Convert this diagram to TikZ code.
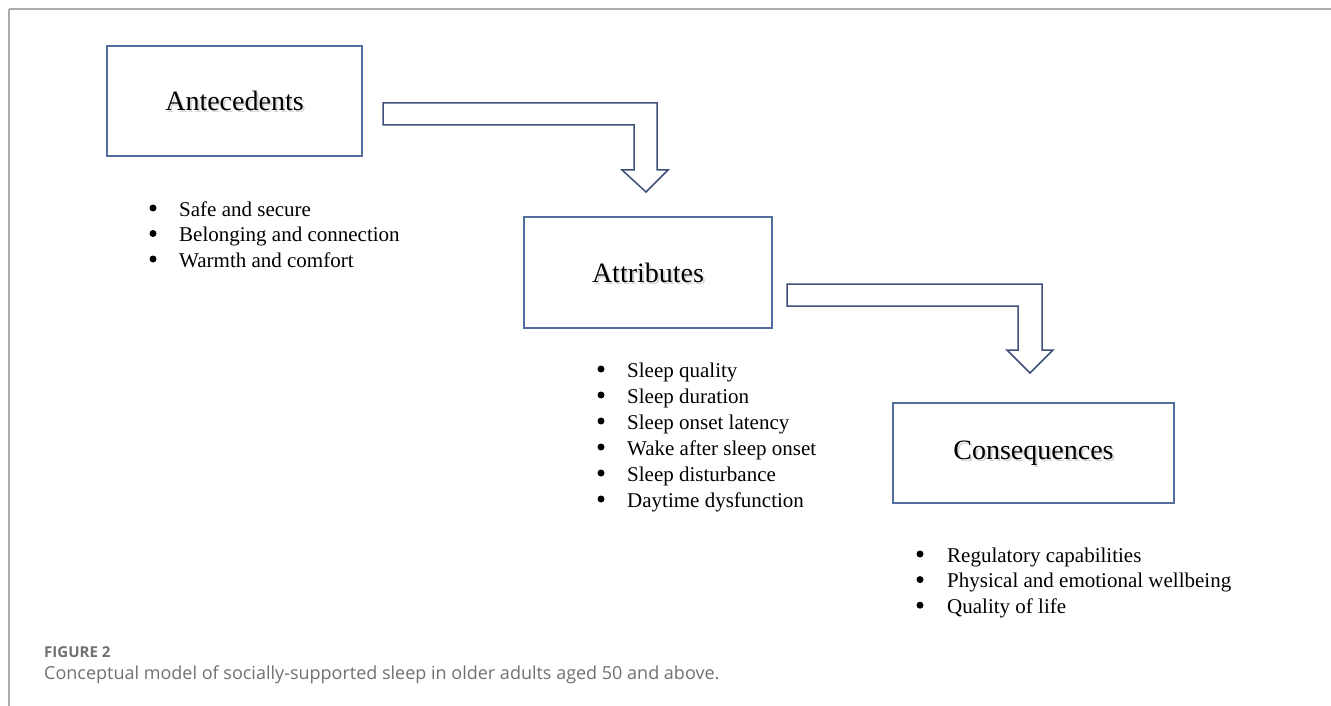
\documentclass[tikz,border=0pt]{standalone}
\usepackage{fontspec}
\setmainfont{Liberation Serif}
\newfontfamily\capfont{Open Sans}
\usetikzlibrary{positioning}
\definecolor{boxblue}{RGB}{84,110,160}
\definecolor{arrowblue}{RGB}{62,80,122}
\definecolor{rulegray}{RGB}{172,172,172}
\definecolor{capgray}{RGB}{112,112,112}
\tikzset{
  stage/.style={draw=boxblue, line width=1.5pt, inner sep=0pt, font=\fontsize{28}{32}\selectfont},
  glow/.style={inner sep=0pt, font=\fontsize{28}{32}\selectfont, text=black, opacity=0.16},
  item/.style={anchor=base west, inner sep=0pt, font=\fontsize{21}{26}\selectfont},
  dot/.style={circle, fill=black, inner sep=0pt, minimum size=7pt},
  blockarrow/.style={draw=arrowblue, line width=1.5pt, line join=miter},
}

\begin{document}
\begin{tikzpicture}[x=1pt,y=-1pt]
        \useasboundingbox (0,0) rectangle (1331,706);

        % page rules
        \draw[rulegray, line width=1.5pt] (9,9) -- (1331,9);
        \draw[rulegray, line width=1.5pt] (9,9) -- (9,706);

        % soft shadows behind the titles
        \node[glow] at (236.5,103) {Antecedents};
        \node[glow] at (650,274.5) {Attributes};
        \node[glow] at (1035.5,455) {Consequences};

        \node[stage, minimum width=255pt, minimum height=110pt] (ante) at (234.5,101) {Antecedents};
        \node[stage, minimum width=248pt, minimum height=111pt] (attr) at (648,272.5) {Attributes};
        \node[stage, minimum width=281pt, minimum height=100pt] (cons) at (1033.5,453) {Consequences};

        % bent block arrows
        \draw[blockarrow] (383,103) -- (657,103) -- (657,170) -- (668,170) -- (646,192)
              -- (622,170) -- (634,170) -- (634,125) -- (383,125) -- cycle;
        \draw[blockarrow] (787,284) -- (1042,284) -- (1042,350) -- (1053,350) -- (1030,373)
              -- (1007,350) -- (1018,350) -- (1018,306) -- (787,306) -- cycle;

        % bullet lists
        \foreach \txt [count=\i from 0] in {Safe and secure, Belonging and connection, Warmth and comfort} {
          \node[dot] (ante-dot-\i) at (153,{208+25.5*\i}) {};
          \node[item] (ante-item-\i) at (179,{216+25.5*\i}) {\txt};
        }
        \foreach \txt [count=\i from 0] in {Sleep quality, Sleep duration, Sleep onset latency,
            Wake after sleep onset, Sleep disturbance, Daytime dysfunction} {
          \node[dot] (attr-dot-\i) at (601,{369+26*\i}) {};
          \node[item] (attr-item-\i) at (627,{377+26*\i}) {\txt};
        }
        \foreach \txt [count=\i from 0] in {Regulatory capabilities, Physical and emotional wellbeing, Quality of life} {
          \node[dot] (cons-dot-\i) at (920,{554+25.6*\i}) {};
          \node[item] (cons-item-\i) at (947,{562+25.6*\i}) {\txt};
        }

        % caption
        \node[anchor=base west, inner sep=0pt, text=capgray, font=\capfont\bfseries\fontsize{15}{18}\selectfont] (figno) at (44,657) {FIGURE 2};
        \node[anchor=base west, inner sep=0pt, text=capgray, font=\capfont\fontsize{18}{21}\selectfont] (caption) at (44,679)
              {Conceptual model of socially-supported sleep in older adults aged 50 and above.};
\end{tikzpicture}
\end{document}
